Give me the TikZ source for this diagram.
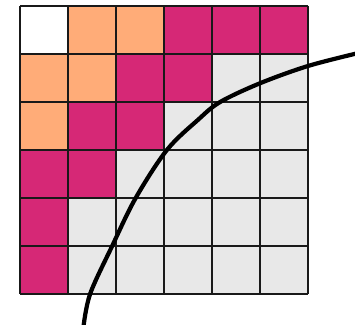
\documentclass[tikz,border=0pt]{standalone}
\usepackage{tikz}
\usetikzlibrary{calc}

\definecolor{cellwhite}{RGB}{255,255,255}
\definecolor{cellorange}{RGB}{255,172,120}
\definecolor{cellpink}{RGB}{214,40,118}
\definecolor{cellgray}{RGB}{232,232,232}

\begin{document}
\begin{tikzpicture}[cell/.style={fill=#1, draw=none}]
            \useasboundingbox (-0.417,-0.646) rectangle (6.979,6.125);
            % cells, top row first
            \foreach \row [count=\j from 0] in {
                {cellwhite,cellorange,cellorange,cellpink,cellpink,cellpink},
                {cellorange,cellorange,cellpink,cellpink,cellgray,cellgray},
                {cellorange,cellpink,cellpink,cellgray,cellgray,cellgray},
                {cellpink,cellpink,cellgray,cellgray,cellgray,cellgray},
                {cellpink,cellgray,cellgray,cellgray,cellgray,cellgray},
                {cellpink,cellgray,cellgray,cellgray,cellgray,cellgray}} {
                \foreach \c [count=\i from 0] in \row {
                    \fill[cell=\c] (\i,5-\j) rectangle ++(1,1);
                }
            }
            % grid
            \draw[line width=1.7pt, black!90] (0,0) grid (6,6);
            % curve
            \draw[line width=2.5pt] plot[smooth, tension=0.55] coordinates {
                (1.32,-0.7) (1.46,0) (1.92,1) (2.41,2) (3.06,3) (3.71,3.63)
                (4.17,4) (5,4.39) (6,4.75) (7.05,5.02)};
        \end{tikzpicture}
\end{document}
